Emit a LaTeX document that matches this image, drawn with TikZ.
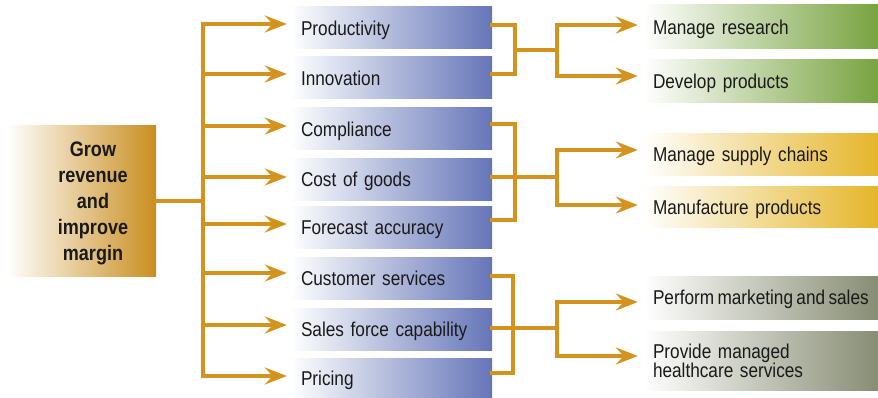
\documentclass[tikz,border=0pt]{standalone}
\usepackage{fontspec}
\setmainfont[FakeStretch=0.86]{Liberation Sans}
\usetikzlibrary{arrows.meta}
\definecolor{gold}{HTML}{C98E1F}
\definecolor{arrowc}{HTML}{D4921E}
\definecolor{midblue}{HTML}{6576B8}
\definecolor{leafgreen}{HTML}{78A340}
\definecolor{leafyellow}{HTML}{E5B62A}
\definecolor{leafgray}{HTML}{878D74}
\definecolor{txt}{HTML}{1A1A1A}
\newcommand{\padl}{\hspace*{10pt}}
\newcommand{\tsp}{\hspace{3.4pt}}
\begin{document}
\begin{tikzpicture}[x=1pt,y=-1pt,
  conn/.style={draw=arrowc,line width=4.5pt,line cap=rect},
  arr/.style={draw=arrowc,line width=4.5pt,-{Stealth[length=22pt,width=17pt,inset=8pt]},shorten >=3pt},
  basebox/.style={inner sep=0pt,align=left,text=txt,text depth=0pt,font=\fontsize{20}{19}\selectfont},
  midbox/.style={basebox,inner xsep=11pt,left color=white,right color=midblue,minimum width=202pt,minimum height=42pt,text width=180pt},
  leafbox/.style={basebox,minimum width=235pt,text width=235pt,left color=white},
  greenbox/.style={leafbox,right color=leafgreen,minimum height=44pt},
  yellowbox/.style={leafbox,right color=leafyellow,minimum height=42pt},
  graybox/.style={leafbox,right color=leafgray,minimum height=43pt},
  goalbox/.style={left color=white,right color=gold,minimum width=149pt,minimum height=150pt,inner sep=0pt},
  goaltext/.style={inner sep=0pt,align=center,text=txt,font=\fontsize{21}{26}\selectfont\bfseries}
]
\useasboundingbox (0,0) rectangle (878,398);

% goal
\node[goalbox] (goal) at (81.5,201) {};
\node[goaltext] (goalt) at (93,203) {Grow\\revenue\\and\\improve\\margin};

% middle boxes
\node[midbox] (m1) at (391,28) {Productivity};
\node[midbox] (m2) at (391,78) {Innovation};
\node[midbox] (m3) at (391,129) {Compliance};
\node[midbox] (m4) at (391,179.5) {Cost of goods};
\node[midbox] (m5) at (391,227.5) {Forecast accuracy};
\node[midbox] (m6) at (391,278) {Customer services};
\node[midbox] (m7) at (391,329) {Sales force capability};
\node[midbox,minimum height=40pt] (m8) at (391,378) {Pricing};

% right boxes
\node[greenbox] (r1) at (760.5,27) {\padl Manage research};
\node[greenbox,minimum height=43pt] (r2) at (760.5,81.5) {\padl Develop products};
\node[yellowbox] (r3) at (760.5,154.5) {\padl Manage supply chains};
\node[yellowbox,minimum height=41pt] (r4) at (760.5,207.5) {\padl Manufacture products};
\node[graybox] (r5) at (760.5,297.5) {\padl\mbox{Perform\tsp marketing\tsp and\tsp sales}};
\node[graybox,minimum height=59pt,text depth={}] (r6) at (760.5,360.5) {\padl Provide managed\\\padl healthcare services};

% trunk coordinates
\coordinate (l1) at (203,24);
\coordinate (l2) at (203,74);
\coordinate (l3) at (203,126);
\coordinate (l4) at (203,177);
\coordinate (l5) at (203,224);
\coordinate (l6) at (203,273);
\coordinate (l7) at (203,325);
\coordinate (l8) at (203,376);

\draw[conn] (goal.east) -- (goal.east -| l1);
\draw[conn] (l1) -- (l8);
\foreach \i in {1,...,8}{
  \draw[arr] (l\i) -- (l\i -| m\i.west);
}

% group 1
\coordinate (g1a) at (515,25);
\coordinate (g1b) at (515,74);
\coordinate (g1m) at (515,50);
\coordinate (s1m) at (557,50);
\coordinate (s1a) at (557,25);
\coordinate (s1b) at (557,76);
\draw[conn] (g1a -| m1.east) -- (g1a) -- (g1b) -- (g1b -| m2.east);
\draw[conn] (g1m) -- (s1m);
\draw[conn] (s1a) -- (s1b);
\draw[arr,shorten >=5pt] (s1a) -- (s1a -| r1.west);
\draw[arr,shorten >=5pt] (s1b) -- (s1b -| r2.west);

% group 2
\coordinate (g2a) at (515,124);
\coordinate (g2b) at (515,220);
\coordinate (g2m) at (557,177);
\coordinate (s2a) at (557,150);
\coordinate (s2b) at (557,205);
\draw[conn] (g2a -| m3.east) -- (g2a) -- (g2b) -- (g2b -| m5.east);
\draw[conn] (g2m -| m4.east) -- (g2m);
\draw[conn] (s2a) -- (s2b);
\draw[arr,shorten >=5pt] (s2a) -- (s2a -| r3.west);
\draw[arr,shorten >=5pt] (s2b) -- (s2b -| r4.west);

% group 3
\coordinate (g3a) at (513,276);
\coordinate (g3b) at (513,373);
\coordinate (g3m) at (557,328);
\coordinate (s3a) at (557,302);
\coordinate (s3b) at (557,356);
\draw[conn] (g3a -| m6.east) -- (g3a) -- (g3b) -- (g3b -| m8.east);
\draw[conn] (g3m -| m7.east) -- (g3m);
\draw[conn] (s3a) -- (s3b);
\draw[arr,shorten >=5pt] (s3a) -- (s3a -| r5.west);
\draw[arr,shorten >=5pt] (s3b) -- (s3b -| r6.west);
\end{tikzpicture}
\end{document}
